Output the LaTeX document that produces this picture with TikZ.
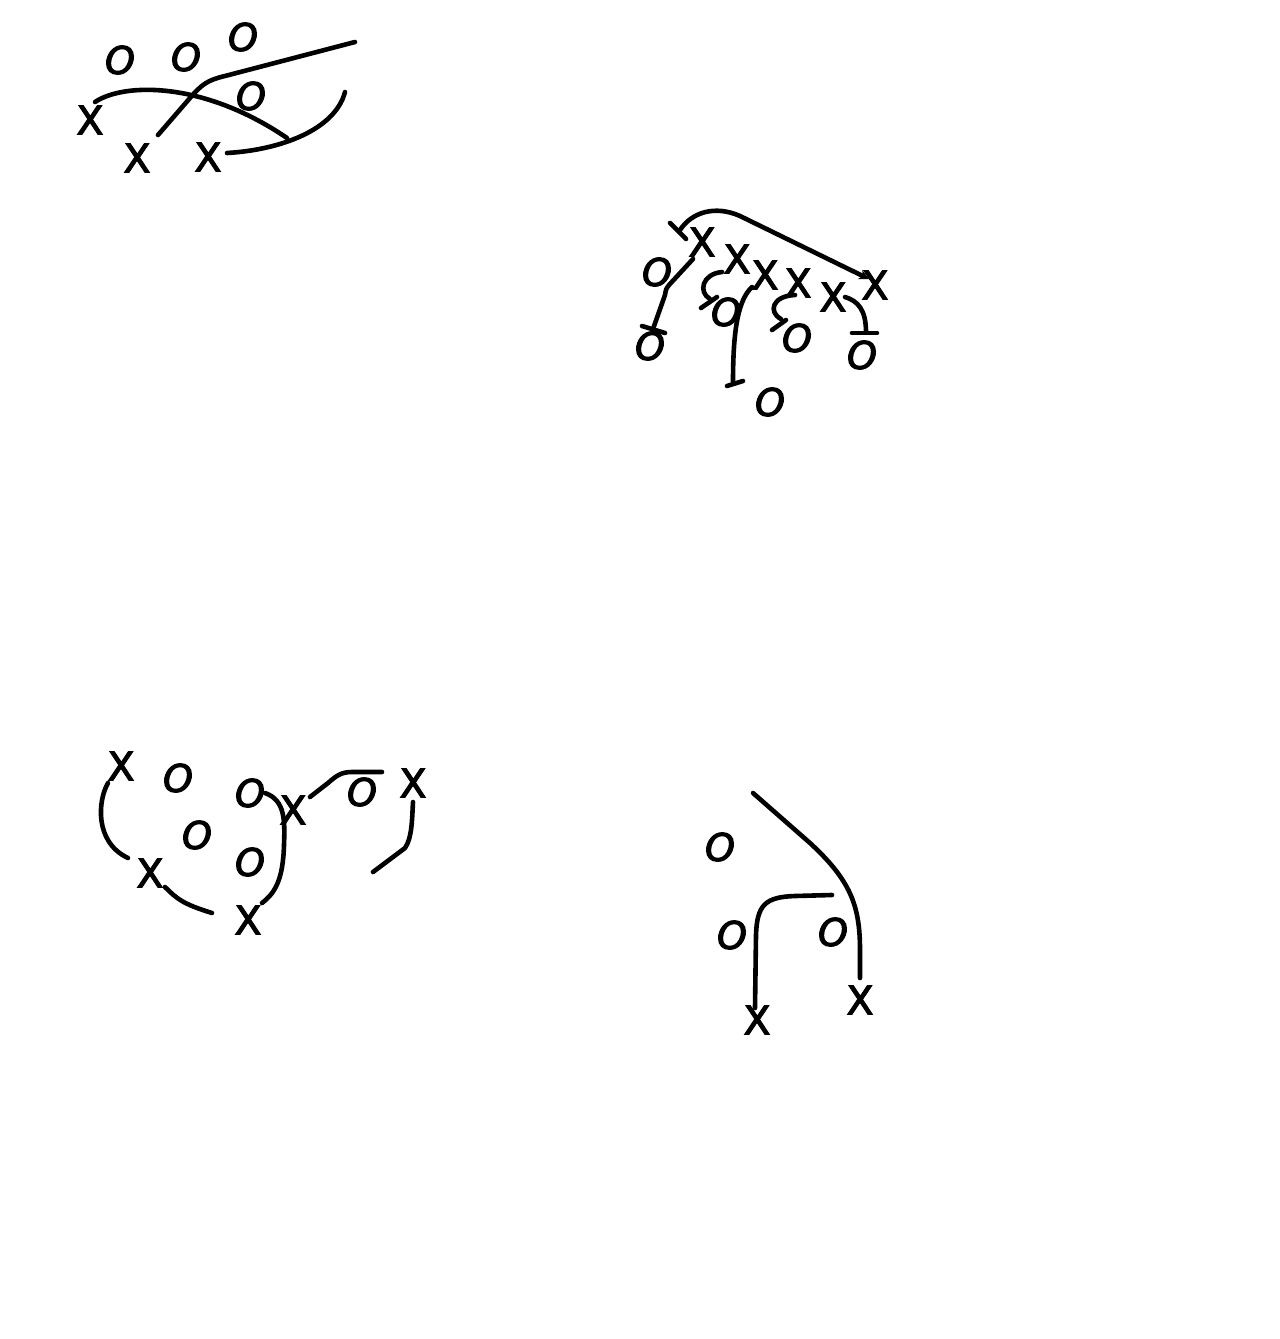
\documentclass[tikz,border=0pt]{standalone}
\usepackage{fontspec}
\setmainfont{DejaVu Sans}
\newfontfamily\xofont{DejaVu Sans}[FakeBold=3,ItalicFeatures={FakeBold=3}]
\usetikzlibrary{arrows.meta}
\begin{document}
\begin{tikzpicture}[x=0.5pt,y=-0.5pt,
  xs/.style={inner sep=0pt,outer sep=0pt,font=\xofont\fontsize{19.5}{20}\selectfont},
  os/.style={inner sep=0pt,outer sep=0pt,font=\xofont\fontsize{19}{20}\selectfont\itshape},
  pen/.style={line width=2.3pt,line cap=round,line join=round}]
\useasboundingbox[fill=white] (0,0) rectangle (1280,1339);
% ---------- panel 1
\node[os] (a1) at (120,60) {O};
\node[os] (a2) at (186,57) {O};
\node[os] (a3) at (243,37) {O};
\node[os] (a4) at (251,96) {O};
\node[xs] (ax1) at (90,120) {X};
\node[xs] (ax2) at (137,158) {X};
\node[xs] (ax3) at (208,157) {X};
\coordinate (aA1) at (95,102); \coordinate (aA2) at (287,138);
\coordinate (aB1) at (158,135); \coordinate (aB2) at (355,42);
\coordinate (aC1) at (227,153); \coordinate (aC2) at (345,92);
\draw[pen] (aA1) .. controls (125,82) and (205,82) .. (aA2);
\draw[pen] (aB1) -- (190,98) .. controls (202,84) and (208,80) .. (225,76) -- (aB2);
\draw[pen] (aC1) .. controls (280,150) and (335,130) .. (aC2);
% ---------- panel 2
\node[xs] (b1) at (702,242) {X};
\node[xs] (b2) at (737,259) {X};
\node[xs] (b3) at (765,275) {X};
\node[xs] (b4) at (798,283) {X};
\node[xs] (b5) at (833,297) {X};
\node[xs] (b6) at (875,285) {X};
\node[os] (bo1) at (657,272) {O};
\node[os] (bo2) at (650,346) {O};
\node[os] (bo3) at (726,312) {O};
\node[os] (bo4) at (797,338) {O};
\node[os] (bo5) at (862,355) {O};
\node[os] (bo6) at (770,402) {O};
% big arc with T-bar start and arrow end
\coordinate (bA1) at (680,230); \coordinate (bA2) at (869,279);
\draw[pen,-{Stealth[length=5pt,width=5pt]}] (bA1) .. controls (692,212) and (715,205) .. (740,216) -- (bA2);
\draw[pen] (670,223) -- (686,239);
% X1 -> lower O
\coordinate (bB1) at (693,259); \coordinate (bB2) at (653,329);
\draw[pen] (bB1) -- (669,285) .. controls (666,289) .. (665,295) -- (bB2);
\draw[pen] (642,326) -- (665,333);
% X2 -> O
\coordinate (bC1) at (722,272); \coordinate (bC2) at (710,299);
\draw[pen] (bC1) .. controls (702,274) and (698,292) .. (bC2);
\draw[pen] (701,308) -- (717,297);
% X3 long line
\coordinate (bD1) at (752,287); \coordinate (bD2) at (733,382);
\draw[pen] (bD1) .. controls (738,300) and (733,330) .. (bD2);
\draw[pen] (727,386) -- (743,381);
% X4 -> O
\coordinate (bE1) at (795,295); \coordinate (bE2) at (781,319);
\draw[pen] (bE1) .. controls (772,296) and (768,312) .. (bE2);
\draw[pen] (772,330) -- (786,320);
% X5 -> O
\coordinate (bF1) at (845,297); \coordinate (bF2) at (866,332);
\draw[pen] (bF1) .. controls (858,301) and (866,310) .. (bF2);
\draw[pen] (852,333) -- (877,333);
% ---------- panel 3
\node[xs] (c1) at (121,766) {X};
\node[os] (co1) at (178,778) {O};
\node[os] (co2) at (250,793) {O};
\node[xs] (c2) at (293,810) {X};
\node[os] (co3) at (362,792) {O};
\node[xs] (c3) at (413,783) {X};
\node[os] (co4) at (197,835) {O};
\node[os] (co5) at (250,862) {O};
\node[xs] (c4) at (150,873) {X};
\node[xs] (c5) at (248,920) {X};
\coordinate (cA1) at (108,783); \coordinate (cA2) at (128,858);
\draw[pen] (cA1) .. controls (98,800) and (94,842) .. (cA2);
\coordinate (cB1) at (165,887); \coordinate (cB2) at (212,913);
\draw[pen] (cB1) .. controls (177,899) and (183,904) .. (cB2);
\coordinate (cC1) at (265,793); \coordinate (cC2) at (262,903);
\draw[pen] (cC1) .. controls (285,800) and (285,820) .. (284,845) .. controls (283,880) and (275,893) .. (cC2);
\coordinate (cD1) at (310,797); \coordinate (cD2) at (382,772);
\draw[pen] (cD1) -- (328,783) .. controls (337,775) and (342,772) .. (352,772) -- (cD2);
\coordinate (cE1) at (413,802); \coordinate (cE2) at (373,872);
\draw[pen] (cE1) .. controls (412,820) and (412,838) .. (405,848) -- (cE2);
% ---------- panel 4
\node[os] (do1) at (720,847) {O};
\node[os] (do2) at (732,935) {O};
\node[os] (do3) at (833,932) {O};
\node[xs] (d1) at (757,1020) {X};
\node[xs] (d2) at (860,1000) {X};
\coordinate (dA1) at (753,793); \coordinate (dA2) at (860,978);
\draw[pen] (dA1) -- (810,843) .. controls (850,880) and (860,905) .. (860,950) -- (dA2);
\coordinate (dB1) at (755,1008); \coordinate (dB2) at (832,895);
\draw[pen] (dB1) -- (756,935) .. controls (757,905) and (765,897) .. (795,896) -- (dB2);
\end{tikzpicture}
\end{document}
